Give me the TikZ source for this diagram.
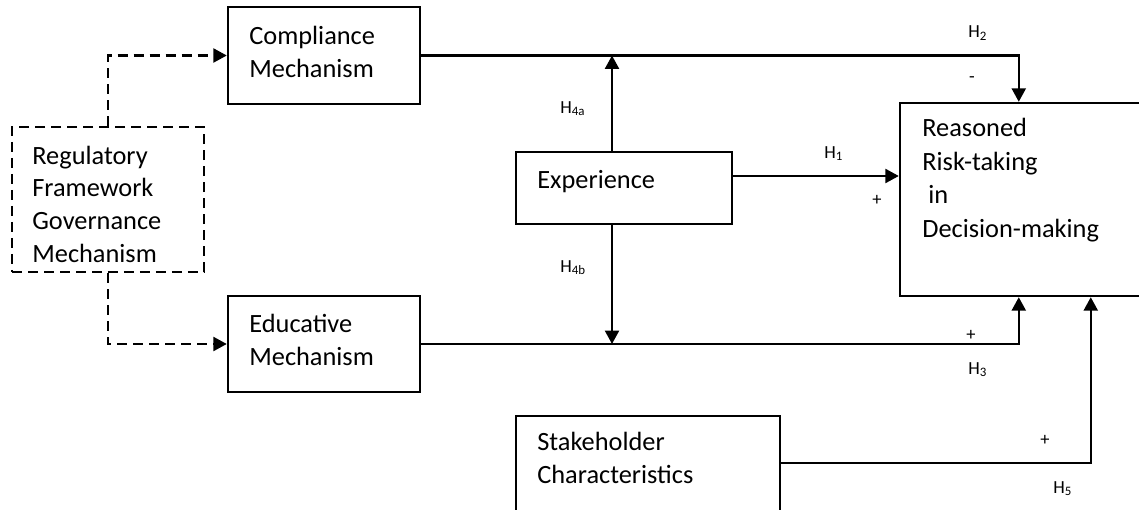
\documentclass[tikz,border=0pt]{standalone}
\usepackage{fontspec}
\setmainfont{Carlito}
\usetikzlibrary{arrows.meta}

\begin{document}
\begin{tikzpicture}[x=0.02cm, y=-0.02cm,
    box/.style={draw, rectangle, line width=1.4pt, inner sep=0pt},
    dbox/.style={box, dash pattern=on 0.2cm off 0.12cm},
    txt/.style={font=\fontsize{15pt}{18.5pt}\selectfont, align=left, inner sep=0pt, anchor=base west},
    lbl/.style={font=\fontsize{10.5pt}{12pt}\selectfont, inner sep=0pt},
    arr/.style={line width=1.4pt, -{Triangle[length=0.27cm, width=0.28cm]}},
    dasharr/.style={arr, dash pattern=on 0.2cm off 0.12cm}]
    \useasboundingbox (0,0) rectangle (1139,510);

    \node[box, minimum width=3.84cm, minimum height=1.94cm] (comp) at (324,55.5) {};
    \node[dbox, minimum width=3.84cm, minimum height=2.9cm] (reg) at (108,199.5) {};
    \node[box, minimum width=3.84cm, minimum height=1.92cm] (edu) at (324,344) {};
    \node[box, minimum width=4.32cm, minimum height=1.44cm] (exp) at (624,188) {};
    \node[box, minimum width=5.28cm, minimum height=3cm] (stake) at (648,491) {};
    \node[box, minimum width=6cm, minimum height=3.86cm] (risk) at (1050,199.5) {};

    \node[txt] (compT) at (249,77.5) {Compliance\\Mechanism};
    \node[txt] (regT) at (32,262) {Regulatory\\Framework\\Governance\\Mechanism};
    \node[txt] (eduT) at (249,365) {Educative\\Mechanism};
    \node[txt] (expT) at (537,188) {Experience};
    \node[txt] (stakeT) at (537,483) {Stakeholder\\Characteristics};
    \node[txt, font=\fontsize{15pt}{19pt}\selectfont] (riskT) at (922,237) {Reasoned\\Risk-taking\\\ in\\Decision-making};

    \draw[dasharr] (reg.north) |- (comp.west);
    \draw[dasharr] (reg.south) |- (edu.west);

    \draw[arr] (comp.east) -| ([xshift=2.4cm]risk.north west);
    \draw[arr] ([xshift=-0.24cm]exp.north) -- ([xshift=-0.24cm]exp.north |- comp.east);
    \draw[arr] ([xshift=-0.24cm]exp.south) -- ([xshift=-0.24cm]exp.south |- edu.east);
    \draw[arr] ([yshift=0.24cm]exp.east) -- ([yshift=0.24cm]exp.east -| risk.west);
    \draw[arr] (edu.east) -| ([xshift=2.4cm]risk.south west);
    \draw[arr] ([yshift=0.56cm]stake.east) -| ([xshift=3.84cm]risk.south west);

    \node[lbl, anchor=base west] (hTwo) at (968,38) {H\textsubscript{2}};
    \node[lbl] (minus) at (972,80) {-};
    \node[lbl, anchor=base west] (hOne) at (824,158) {H\textsubscript{1}};
    \node[lbl] (plusOne) at (877,200) {+};
    \node[lbl, anchor=base west] (hFourA) at (560,113) {H\textsubscript{4a}};
    \node[lbl, anchor=base west] (hFourB) at (560,272) {H\textsubscript{4b}};
    \node[lbl] (plusThree) at (971,335) {+};
    \node[lbl, anchor=base west] (hThree) at (968,374) {H\textsubscript{3}};
    \node[lbl] (plusFive) at (1045,440) {+};
    \node[lbl, anchor=base west] (hFive) at (1053,493) {H\textsubscript{5}};
\end{tikzpicture}
\end{document}
